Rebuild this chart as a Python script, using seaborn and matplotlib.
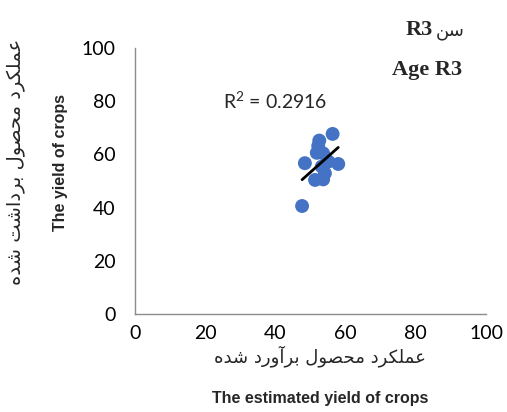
import numpy as np
import pandas as pd
import seaborn as sns
import matplotlib
matplotlib.use('Agg')
import matplotlib.pyplot as plt

# === data ===
estimated = [56.3, 52.5, 52.2, 51.8, 53.6, 48.4, 55.1, 57.9, 53.2, 54.1, 51.3, 53.6, 47.6]
harvested = [67.7, 65.2, 63.2, 60.6, 60.4, 56.7, 57.3, 56.4, 55.4, 52.9, 50.4, 50.6, 40.6]
ticks = [0, 20, 40, 60, 80, 100]

r2_text = 'R$^{2}$ = 0.2916'
title_fa = 'سن'
title_code = 'R3'
title_en = 'Age R3'
xlabel_fa = 'عملکرد محصول برآورد شده'
xlabel_en = 'The estimated yield of crops'
ylabel_fa = 'عملکرد محصول برداشت شده'
ylabel_en = 'The yield of crops'

# === simple persian shaping (matplotlib has no bidi / joining) ===
# letter: (isolated, final, initial, medial) ; None -> does not join to next letter
FORMS = {
    'ا': ('\uFE8D', '\uFE8E', None, None),
    'آ': ('\uFE81', '\uFE82', None, None),
    'د': ('\uFEA9', '\uFEAA', None, None),
    'ر': ('\uFEAD', '\uFEAE', None, None),
    'و': ('\uFEED', '\uFEEE', None, None),
    'ب': ('\uFE8F', '\uFE90', '\uFE91', '\uFE92'),
    'ت': ('\uFE95', '\uFE96', '\uFE97', '\uFE98'),
    'ح': ('\uFEA1', '\uFEA2', '\uFEA3', '\uFEA4'),
    'س': ('\uFEB1', '\uFEB2', '\uFEB3', '\uFEB4'),
    'ش': ('\uFEB5', '\uFEB6', '\uFEB7', '\uFEB8'),
    'ص': ('\uFEB9', '\uFEBA', '\uFEBB', '\uFEBC'),
    'ع': ('\uFEC9', '\uFECA', '\uFECB', '\uFECC'),
    'ک': ('\uFB8E', '\uFB8F', '\uFB90', '\uFB91'),
    'ل': ('\uFEDD', '\uFEDE', '\uFEDF', '\uFEE0'),
    'م': ('\uFEE1', '\uFEE2', '\uFEE3', '\uFEE4'),
    'ن': ('\uFEE5', '\uFEE6', '\uFEE7', '\uFEE8'),
    'ه': ('\uFEE9', '\uFEEA', '\uFEEB', '\uFEEC'),
}


def fa(text):
    out = []
    for i, ch in enumerate(text):
        if ch not in FORMS:
            out.append(ch)
            continue
        prev = text[i - 1] if i > 0 else ''
        nxt = text[i + 1] if i + 1 < len(text) else ''
        join_prev = prev in FORMS and FORMS[prev][2] is not None
        join_next = FORMS[ch][2] is not None and nxt in FORMS
        iso, fin, ini, med = FORMS[ch]
        if join_prev and join_next:
            out.append(med)
        elif join_prev:
            out.append(fin)
        elif join_next:
            out.append(ini)
        else:
            out.append(iso)
    return ''.join(out)[::-1]


df = pd.DataFrame({'estimated': estimated, 'harvested': harvested})

sns.set_style('white')
plt.rcParams['font.family'] = ['Lato', 'DejaVu Sans']
plt.rcParams['mathtext.default'] = 'regular'

fig = plt.figure(figsize=(5.07, 4.12), dpi=100)
ax = fig.add_axes([135 / 507, (412 - 314) / 412, 351 / 507, 266 / 412])

sns.scatterplot(data=df, x='estimated', y='harvested', color='#4472C4', s=100,
                edgecolor='none', ax=ax, zorder=2)
sns.regplot(data=df, x='estimated', y='harvested', scatter=False, ci=None, truncate=True,
            line_kws={'color': 'black', 'lw': 2}, ax=ax)

ax.set_xlim(0, 100)
ax.set_ylim(0, 100)
ax.set_xticks(ticks)
ax.set_yticks(ticks)
ax.tick_params(axis='both', direction='out', length=5, width=1, color='#8c8c8c',
               labelsize=14, labelcolor='black')
ax.tick_params(axis='x', pad=3)
ax.tick_params(axis='y', pad=9)
for side in ['top', 'right']:
    ax.spines[side].set_visible(False)
for side in ['left', 'bottom']:
    ax.spines[side].set_color('#8c8c8c')
    ax.spines[side].set_linewidth(1)
ax.set_xlabel('')
ax.set_ylabel('')

ax.text(0.40, 0.80, r2_text, transform=ax.transAxes, fontsize=14, ha='center', va='center')

# titles top right
fig.text(433 / 507, 1 - 30 / 412, title_code, fontsize=16, fontweight='bold',
         family=['Liberation Serif'], ha='right', va='center')
fig.text(436 / 507, 1 - 31 / 412, fa(title_fa), fontsize=13,
         family=['DejaVu Sans'], ha='left', va='center')
fig.text(462 / 507, 1 - 70 / 412, title_en, fontsize=16, fontweight='bold',
         family=['Liberation Serif'], ha='right', va='center')

# axis labels
fig.text(320 / 507, 1 - 356 / 412, fa(xlabel_fa), fontsize=13, family=['DejaVu Sans'],
         ha='center', va='center')
fig.text(320 / 507, 1 - 398 / 412, xlabel_en, fontsize=11.5, fontweight='bold',
         family=['Liberation Sans'], ha='center', va='center')
fig.text(16 / 507, 1 - 162 / 412, fa(ylabel_fa), fontsize=14, family=['DejaVu Sans'],
         rotation=90, ha='center', va='center')
fig.text(60 / 507, 1 - 162 / 412, ylabel_en, fontsize=11.5, fontweight='bold',
         family=['Liberation Sans'], rotation=90, ha='center', va='center')

fig.savefig('out.png', dpi=100)
